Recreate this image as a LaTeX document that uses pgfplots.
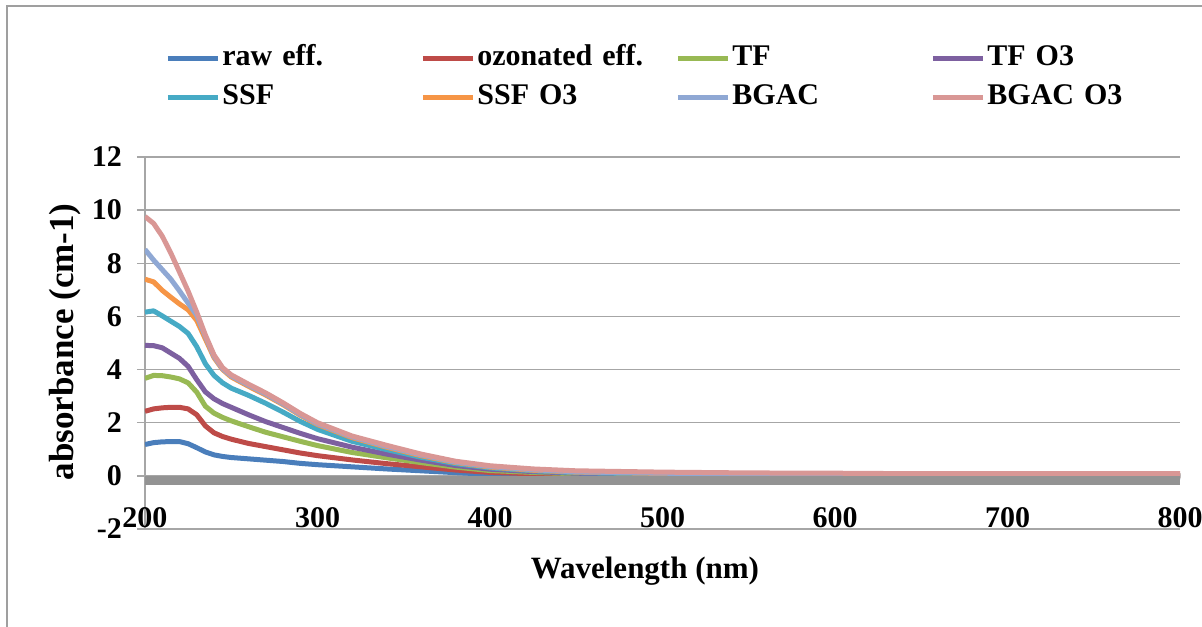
\documentclass[border=0pt]{standalone}
\usepackage{pgfplots}
\usepackage{pgfplotstable}
\pgfplotsset{compat=1.18}
\usepackage{fontspec}
\setmainfont{Liberation Serif}
\newfontfamily\legfont[WordSpace=0.7]{Liberation Serif}

\definecolor{cRaw}{HTML}{4A7EBB}
\definecolor{cOz}{HTML}{BE4B48}
\definecolor{cTF}{HTML}{98B954}
\definecolor{cTFO}{HTML}{7D60A0}
\definecolor{cSSF}{HTML}{46AAC5}
\definecolor{cSSFO}{HTML}{F69546}
\definecolor{cBG}{HTML}{8FA8D4}
\definecolor{cBGO}{HTML}{D99795}
\definecolor{gridc}{HTML}{A6A6A6}

% absorbance spectra
\pgfplotstableread{
lam raw oz tf tfo ssf ssfo bg bgo
200 1.18 2.43 3.67 4.91 6.16 7.40 8.52 9.76
205 1.25 2.52 3.78 4.90 6.21 7.30 8.12 9.50
210 1.28 2.56 3.77 4.82 6.02 6.98 7.76 9.02
215 1.29 2.58 3.72 4.62 5.82 6.72 7.40 8.38
220 1.29 2.58 3.65 4.42 5.62 6.47 6.96 7.67
225 1.21 2.52 3.50 4.12 5.36 6.25 6.50 6.95
230 1.06 2.30 3.15 3.62 4.86 5.85 6.04 6.16
235 0.90 1.88 2.62 3.16 4.22 5.15 5.25 5.30
240 0.79 1.62 2.36 2.90 3.78 4.45 4.50 4.55
245 0.73 1.48 2.20 2.72 3.50 4.00 4.03 4.07
250 0.69 1.38 2.07 2.58 3.30 3.72 3.76 3.80
260 0.64 1.22 1.85 2.30 3.03 3.37 3.41 3.45
270 0.59 1.10 1.64 2.04 2.73 3.04 3.08 3.12
280 0.54 0.98 1.47 1.82 2.40 2.68 2.71 2.75
290 0.47 0.86 1.30 1.60 2.05 2.28 2.31 2.35
300 0.42 0.76 1.14 1.40 1.75 1.93 1.96 2.00
320 0.34 0.60 0.88 1.08 1.30 1.44 1.47 1.50
340 0.26 0.46 0.68 0.82 0.99 1.08 1.11 1.15
360 0.19 0.34 0.50 0.59 0.70 0.76 0.79 0.82
380 0.12 0.22 0.33 0.39 0.46 0.50 0.52 0.55
400 0.06 0.13 0.20 0.25 0.30 0.33 0.35 0.38
425 0.03 0.08 0.13 0.16 0.19 0.21 0.23 0.26
450 0.02 0.05 0.08 0.10 0.12 0.14 0.15 0.19
500 0.00 0.03 0.04 0.05 0.07 0.09 0.10 0.14
550 -0.02 0.02 0.03 0.03 0.04 0.06 0.07 0.11
600 -0.03 0.01 0.02 0.02 0.03 0.04 0.05 0.10
650 -0.04 0.00 0.01 0.01 0.02 0.03 0.03 0.08
700 -0.04 0.00 0.00 0.01 0.01 0.02 0.02 0.08
750 -0.05 0.00 0.00 0.00 0.01 0.01 0.02 0.08
800 -0.05 0.00 0.00 0.00 0.00 0.01 0.01 0.08
}\spectra

\begin{document}
\begin{tikzpicture}
\useasboundingbox (-72.5pt,-48.5pt) rectangle (528.5pt,264.5pt);
\draw[gray!75, line width=1pt] (-69pt,-80pt) rectangle (560pt,261.5pt);
\begin{axis}[
    scale only axis,
    width=517.5pt, height=186pt,
    xmin=200, xmax=800,
    ymin=-2, ymax=12,
    xtick={200,300,...,800},
    ytick={-2,0,...,12},
    axis lines*=left,
    axis line style={gridc, line width=0.7pt, -},
    ymajorgrids,
    grid style={gridc, line width=0.7pt},
    tick align=outside,
    major tick length=4pt,
    xtick style={draw=none},
    ytick style={gridc, line width=0.7pt},
    /pgf/number format/assume math mode=true,
    /pgf/number format/1000 sep={},
    tick label style={font=\fontsize{15}{18}\selectfont\bfseries},
    xticklabel style={anchor=base, yshift=5pt},
    yticklabel style={xshift=-4pt},
    xlabel={Wavelength (nm)},
    ylabel={absorbance (cm-1)},
    xlabel style={at={(axis description cs:0.483,-0.113)}, anchor=center,
        font=\fontsize{15.5}{18}\selectfont\bfseries},
    ylabel style={at={(axis description cs:-0.0773,0.503)}, anchor=center,
        font=\fontsize{17.5}{20}\selectfont\bfseries},
    legend columns=4,
    legend image code/.code={\draw[#1] (0pt,0pt) -- (25pt,0pt);},
    legend style={at={(rel axis cs:0,1)}, anchor=west, xshift=10pt, yshift=39.25pt,
        draw=none, fill=none, inner sep=0pt, row sep=4.5pt,
        font=\fontsize{15}{17}\legfont\bfseries,
        nodes={text width=98pt, align=left, inner sep=1pt, text height=10pt, text depth=3pt},
        /tikz/every odd column/.append style={column sep=0pt}},
    every axis plot/.append style={line width=2.5pt, line join=round},
]
\addplot[cRaw] table[x=lam, y=raw] {\spectra};
\addlegendentry{raw eff.}
\addplot[cOz] table[x=lam, y=oz] {\spectra};
\addlegendentry{ozonated eff.}
\addplot[cTF] table[x=lam, y=tf] {\spectra};
\addlegendentry{TF}
\addplot[cTFO] table[x=lam, y=tfo] {\spectra};
\addlegendentry{TF O3}
\addplot[cSSF] table[x=lam, y=ssf] {\spectra};
\addlegendentry{SSF}
\addplot[cSSFO] table[x=lam, y=ssfo] {\spectra};
\addlegendentry{SSF O3}
\addplot[cBG] table[x=lam, y=bg] {\spectra};
\addlegendentry{BGAC}
\addplot[cBGO] table[x=lam, y=bgo] {\spectra};
\addlegendentry{BGAC O3}
% thick grey band just under zero
\addplot[forget plot, color=gray!85, line width=4.5pt] coordinates {(200,-0.17) (800,-0.17)};
\end{axis}
\end{tikzpicture}
\end{document}
